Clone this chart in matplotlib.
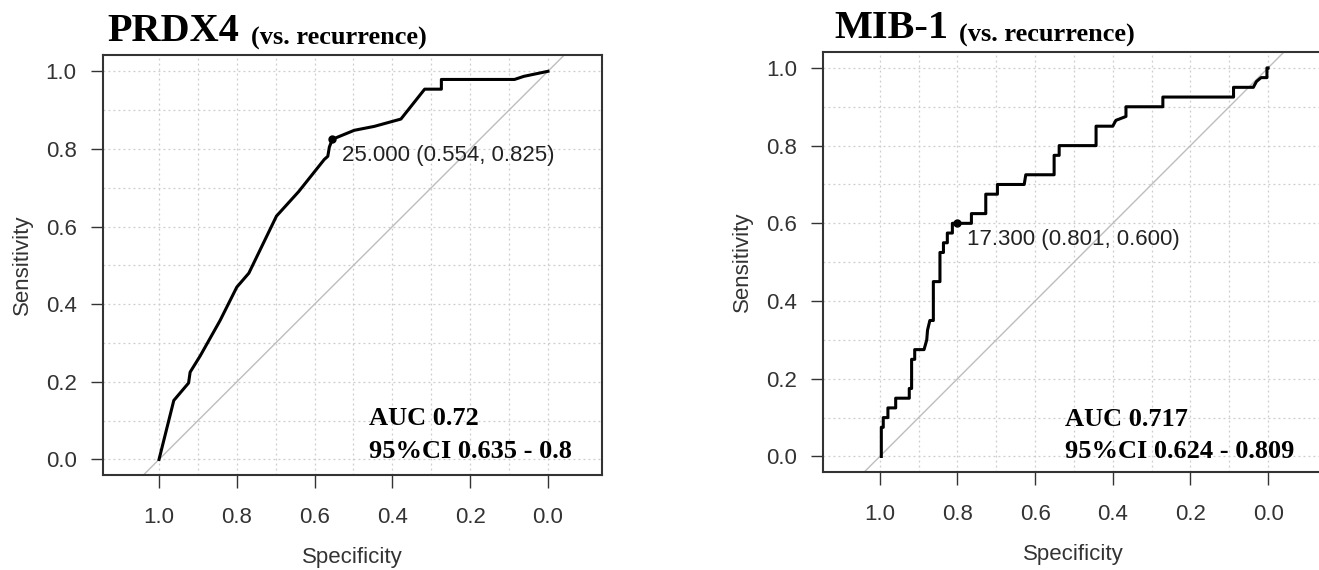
import numpy as np
import matplotlib
matplotlib.use('Agg')
import matplotlib.pyplot as plt

# ROC vertices (specificity, sensitivity)
prdx_spec = [1.0, 0.962, 0.924, 0.920, 0.894, 0.843, 0.800, 0.769, 0.698, 0.641, 0.575,
             0.566, 0.562, 0.554, 0.498, 0.447, 0.378, 0.317, 0.274, 0.274, 0.086, 0.062, 0.0]
prdx_sens = [0.0, 0.152, 0.197, 0.225, 0.267, 0.358, 0.444, 0.480, 0.627, 0.690, 0.773,
             0.781, 0.805, 0.825, 0.848, 0.858, 0.877, 0.954, 0.954, 0.979, 0.979, 0.987, 1.0]

mib_spec = [0.996, 0.996, 0.991, 0.991, 0.979, 0.979, 0.959, 0.959, 0.924, 0.924, 0.918, 0.918,
            0.910, 0.910, 0.886, 0.879, 0.877, 0.871, 0.862, 0.862, 0.845, 0.845, 0.836, 0.836,
            0.826, 0.826, 0.813, 0.813, 0.801, 0.764, 0.764, 0.727, 0.727, 0.697, 0.697, 0.628,
            0.624, 0.551, 0.551, 0.538, 0.538, 0.443, 0.443, 0.400, 0.392, 0.366, 0.366, 0.271,
            0.271, 0.089, 0.089, 0.038, 0.030, 0.018, 0.003, 0.003, 0.0]
mib_sens = [0.0, 0.075, 0.075, 0.1, 0.1, 0.125, 0.125, 0.15, 0.15, 0.175, 0.175, 0.25,
            0.25, 0.275, 0.275, 0.3, 0.325, 0.35, 0.35, 0.45, 0.45, 0.525, 0.525, 0.55,
            0.55, 0.575, 0.575, 0.6, 0.6, 0.6, 0.625, 0.625, 0.675, 0.675, 0.7, 0.7,
            0.725, 0.725, 0.775, 0.775, 0.8, 0.8, 0.85, 0.85, 0.865, 0.875, 0.9, 0.9,
            0.925, 0.925, 0.95, 0.95, 0.965, 0.975, 0.975, 1.0, 1.0]

names = ['PRDX4', 'MIB-1']
thresholds = ['25.000', '17.300']
best_points = [(0.554, 0.825), (0.801, 0.600)]
auc_lines = [['AUC 0.72', '95%CI 0.635 - 0.8'], ['AUC 0.717', '95%CI 0.624 - 0.809']]
curves = [(prdx_spec, prdx_sens), (mib_spec, mib_sens)]

sans = ['Liberation Sans', 'DejaVu Sans']
serif = ['Liberation Serif', 'DejaVu Serif']
dark = '#333333'

fig = plt.figure(figsize=(13.19, 5.70), dpi=100)
axes_pos = [[0.0781, 0.1667, 0.3783, 0.7368], [0.6243, 0.1719, 0.3795, 0.7376]]
xlims = [(1.144, -0.139), (1.145, -0.144)]
auc_pos = [(0.461, 0.088, 0.005), (0.524, 0.079, -0.004)]
title_pos = [(0.0817, 0.9286), (0.6323, 0.933)]

for i in range(2):
    ax = fig.add_axes(axes_pos[i])
    ax.set_xlim(*xlims[i])
    ax.set_ylim(-0.04, 1.042)

    # R-like dotted grid at every 0.1
    for g in np.linspace(0, 1, 11):
        ax.axvline(g, color='#cccccc', lw=0.9, linestyle=(0, (1.5, 2.5)), zorder=0)
        ax.axhline(g, color='#cccccc', lw=0.9, linestyle=(0, (1.5, 2.5)), zorder=0)

    ax.axline((1, 0), (0, 1), color='#bdbdbd', lw=1, zorder=1)

    sp, se = curves[i]
    ax.plot(sp, se, color='black', lw=2.2, zorder=3)

    bx, by = best_points[i]
    ax.plot(bx, by, 'o', color='black', ms=5, zorder=4)
    ax.annotate('{} ({:.3f}, {:.3f})'.format(thresholds[i], bx, by), xy=(bx, by),
                xytext=(7, -11.5), textcoords='offset points', ha='left', va='center',
                fontsize=16, family=sans, color='#222222')

    ax.text(auc_pos[i][0], auc_pos[i][1], auc_lines[i][0], ha='left', va='baseline',
            fontsize=19, fontweight='bold', family=serif, color='black')
    ax.text(auc_pos[i][0], auc_pos[i][2], auc_lines[i][1], ha='left', va='baseline',
            fontsize=19, fontweight='bold', family=serif, color='black')

    ax.set_xticks([1.0, 0.8, 0.6, 0.4, 0.2, 0.0])
    ax.set_xticklabels(['1.0', '0.8', '0.6', '0.4', '0.2', '0.0'])
    ax.set_yticks([0.0, 0.2, 0.4, 0.6, 0.8, 1.0])
    ax.set_yticklabels(['0.0', '0.2', '0.4', '0.6', '0.8', '1.0'])
    ax.tick_params(axis='x', direction='out', length=9, width=1, color=dark, pad=14,
                   labelsize=16, labelcolor=dark)
    ax.tick_params(axis='y', direction='out', length=9, width=1, color=dark, pad=10,
                   labelsize=16, labelcolor=dark)
    for lab in ax.get_xticklabels() + ax.get_yticklabels():
        lab.set_family(sans)
    for s in ax.spines.values():
        s.set_color(dark)
        s.set_linewidth(1.5)

    ax.text(-0.162, 0.5, 'Sensitivity', transform=ax.transAxes, rotation=90,
            ha='center', va='center', fontsize=16, family=sans, color=dark)
    ax.text(0.5, -0.197, 'Specificity', transform=ax.transAxes,
            ha='center', va='center', fontsize=16, family=sans, color=dark)

    t = fig.text(title_pos[i][0], title_pos[i][1], names[i], ha='left', va='baseline',
                 fontsize=29, fontweight='bold', family=serif)
    ax.annotate('(vs. recurrence)', xy=(1, 0), xycoords=t, xytext=(8, 0),
                textcoords='offset points', ha='left', va='bottom', fontsize=19,
                fontweight='bold', family=serif, annotation_clip=False)

fig.savefig('out.png', dpi=100)
